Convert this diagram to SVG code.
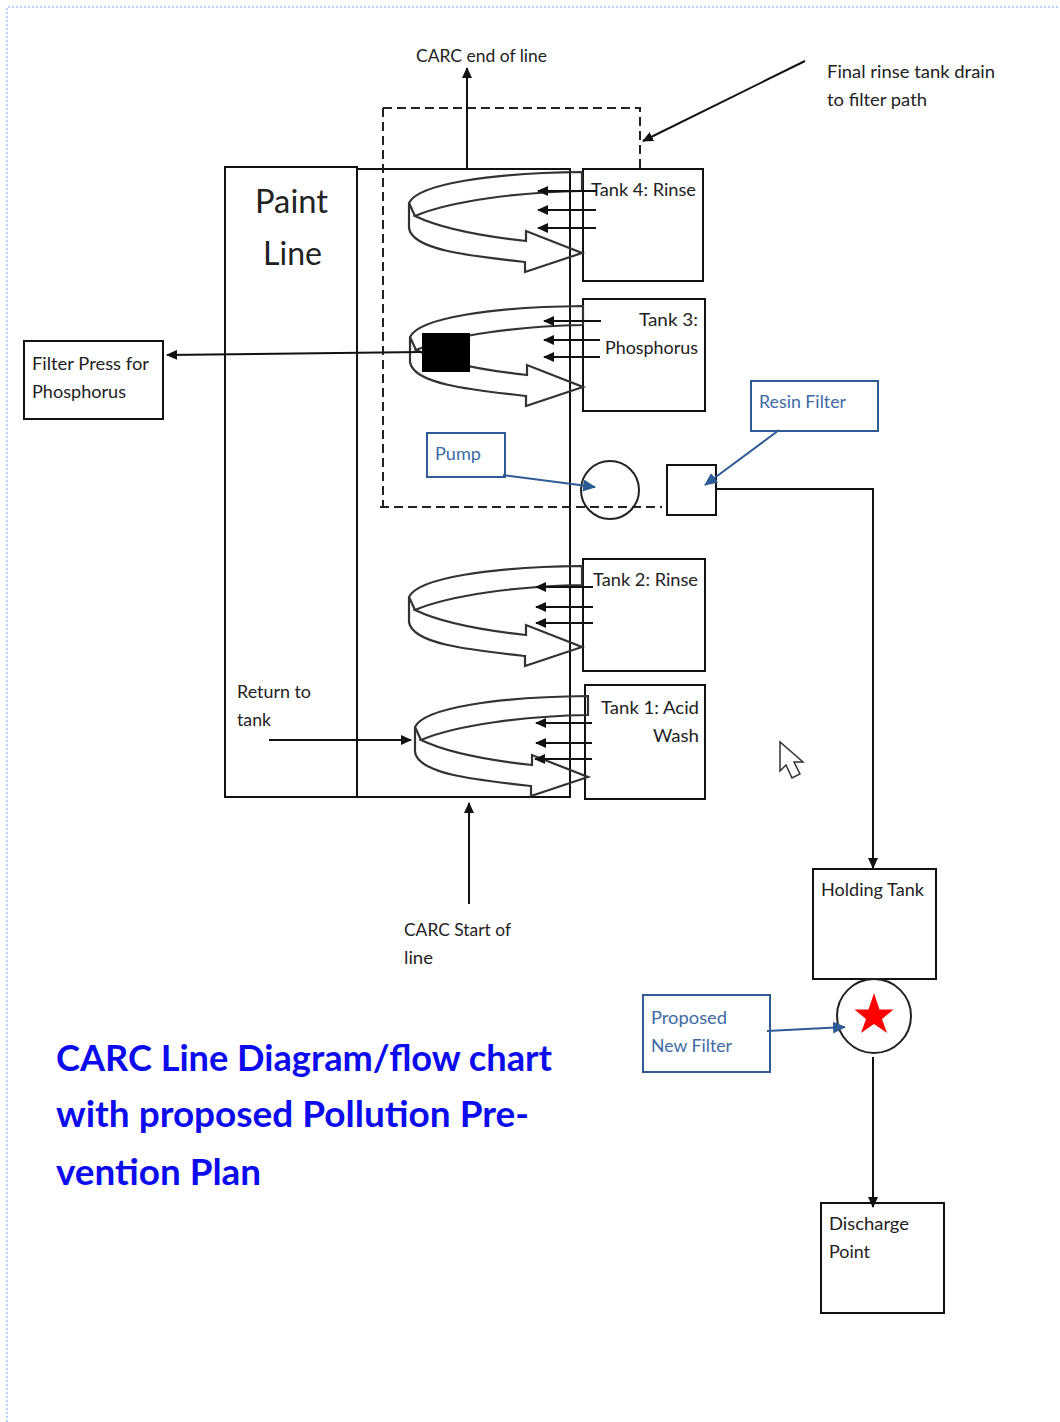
<svg xmlns="http://www.w3.org/2000/svg" width="1060" height="1422" viewBox="0 0 1060 1422">
<style>
text{font-family:"Lato","Open Sans",sans-serif;font-size:18px;fill:#222}
.b{fill:#fff;stroke:#111;stroke-width:2}
.n{fill:none;stroke:#111;stroke-width:2}
.s{fill:none;stroke:#333;stroke-width:2.200}
.c{fill:none;stroke:#111;stroke-width:2;marker-end:url(#a)}
.d{fill:none;stroke:#222;stroke-width:2;stroke-dasharray:9 5}
.bl{fill:#fff;stroke:#2f5b95;stroke-width:2}
.bc{fill:none;stroke:#2f5b95;stroke-width:2;marker-end:url(#ab)}
.t{fill:#3d6aa5}
.h{font-size:36px;font-weight:700;fill:#0b0bee}
.p{font-size:33px}
</style>
<defs>
<marker id="a" markerWidth="12" markerHeight="10" refX="10" refY="5" orient="auto" markerUnits="userSpaceOnUse"><path d="M0 0L11 5L0 10Z" fill="#111"/></marker>
<marker id="ab" markerWidth="14" markerHeight="12" refX="12" refY="6" orient="auto" markerUnits="userSpaceOnUse"><path d="M0 0L13 6L0 12Z" fill="#2f5b95"/></marker>
<path id="sw" d="M582 172C490 173 418 184 409 203V228C412 250 470 256 525 262V272L582 253L526 231V241C480 236 440 228 415 216C450 201 520 192 582 191ZM409 203L415 216"/>
</defs>
<g id="page"><path d="M7 1422V7H1060" fill="none" stroke="#b7d2fb" stroke-width="2" stroke-dasharray="2 2"/></g>

<g id="paint-line"><rect class="b" x="225" y="167" width="132" height="630"/><text class="p" x="255" y="213" textLength="73" lengthAdjust="spacingAndGlyphs">Paint</text><text class="p" x="263" y="265" textLength="59" lengthAdjust="spacingAndGlyphs">Line</text><text x="237" y="698" textLength="74" lengthAdjust="spacingAndGlyphs">Return to</text><text x="237" y="726" textLength="34" lengthAdjust="spacingAndGlyphs">tank</text></g>
<g id="process-area"><path class="n" d="M357 169H570V797H357"/></g>

<g id="tank-4"><rect class="b" x="583" y="169" width="120" height="112"/><use href="#sw" class="s"/><text x="591" y="196" textLength="105" lengthAdjust="spacingAndGlyphs">Tank 4: Rinse</text></g>
<g id="tank-3"><rect class="b" x="583" y="299" width="122" height="112"/><use href="#sw" class="s" transform="translate(1 134)"/><text x="639" y="326" textLength="59" lengthAdjust="spacingAndGlyphs">Tank 3:</text><text x="605" y="354" textLength="93" lengthAdjust="spacingAndGlyphs">Phosphorus</text></g>
<g id="tank-2"><rect class="b" x="583" y="559" width="122" height="112"/><use href="#sw" class="s" transform="translate(0 394)"/><text x="593" y="586" textLength="105" lengthAdjust="spacingAndGlyphs">Tank 2: Rinse</text></g>
<g id="tank-1"><rect class="b" x="585" y="685" width="120" height="114"/><use href="#sw" class="s" transform="translate(6 524)"/><text x="601" y="714" textLength="98" lengthAdjust="spacingAndGlyphs">Tank 1: Acid</text><text x="653" y="742" textLength="46" lengthAdjust="spacingAndGlyphs">Wash</text></g>

<g id="filter-press"><rect class="b" x="24" y="341" width="139" height="78"/><text x="32" y="370" textLength="117" lengthAdjust="spacingAndGlyphs">Filter Press for</text><text x="32" y="398" textLength="94" lengthAdjust="spacingAndGlyphs">Phosphorus</text></g>
<g id="black-filter"><rect x="422" y="333" width="48" height="39" fill="#000"/></g>
<g id="pump-label"><rect class="bl" x="427" y="433" width="78" height="44"/><text class="t" x="435" y="460" textLength="46" lengthAdjust="spacingAndGlyphs">Pump</text></g>
<g id="resin-label"><rect class="bl" x="751" y="381" width="127" height="50"/><text class="t" x="759" y="408" textLength="87" lengthAdjust="spacingAndGlyphs">Resin Filter</text></g>
<g id="pump"><circle cx="610" cy="490" r="29" fill="none" stroke="#222" stroke-width="2"/></g>
<g id="resin-filter"><rect class="b" x="667" y="465" width="49" height="50"/></g>
<g id="holding-tank"><rect class="b" x="813" y="869" width="123" height="110"/><text x="821" y="896" textLength="103" lengthAdjust="spacingAndGlyphs">Holding Tank</text></g>
<g id="new-filter"><circle cx="874" cy="1016" r="37" fill="#fff" stroke="#222" stroke-width="2"/><path d="M874 993L879.500 1009.500H893.500L882 1019L887 1033L874 1024L861 1033L866 1019L854.500 1009.500H868.500Z" fill="#f00"/></g>
<g id="proposed-label"><rect class="bl" x="643" y="995" width="127" height="77"/><text class="t" x="651" y="1024" textLength="76" lengthAdjust="spacingAndGlyphs">Proposed</text><text class="t" x="651" y="1052" textLength="81" lengthAdjust="spacingAndGlyphs">New Filter</text></g>
<g id="discharge"><rect class="b" x="821" y="1203" width="123" height="110"/><text x="829" y="1230" textLength="80" lengthAdjust="spacingAndGlyphs">Discharge</text><text x="829" y="1258" textLength="41" lengthAdjust="spacingAndGlyphs">Point</text></g>

<g id="labels"><text x="416" y="62" textLength="131" lengthAdjust="spacingAndGlyphs">CARC end of line</text><text x="827" y="78" textLength="168" lengthAdjust="spacingAndGlyphs">Final rinse tank drain</text><text x="827" y="106" textLength="100" lengthAdjust="spacingAndGlyphs">to filter path</text><text x="404" y="936" textLength="107" lengthAdjust="spacingAndGlyphs">CARC Start of</text><text x="404" y="964" textLength="29" lengthAdjust="spacingAndGlyphs">line</text>
<text class="h" x="56" y="1071" textLength="496" lengthAdjust="spacingAndGlyphs">CARC Line Diagram/flow chart</text><text class="h" x="56" y="1127" textLength="473" lengthAdjust="spacingAndGlyphs">with proposed Pollution Pre-</text><text class="h" x="56" y="1185" textLength="205" lengthAdjust="spacingAndGlyphs">vention Plan</text></g>
<g id="cursor"><path d="M780 742V771L786 765L792 778L800 774L794 762H803Z" fill="#fff" stroke="#333" stroke-width="1.500"/></g>

<g id="connectors">
<path class="d" d="M383 108H640V169M383 108V507M380 507H662"/>
<path class="c" d="M467 168V68"/><path class="c" d="M805 61L643 141"/>
<path class="c" d="M422 352L167 355"/><path class="c" d="M269 740H411"/><path class="c" d="M469 904V803"/>
<path class="c" d="M716 489H873V868"/><path class="c" d="M873 1057V1207"/>
<path class="bc" d="M503 475L595 487"/><path class="bc" d="M779 430L705 485"/><path class="bc" d="M767 1031L845 1027"/>
<path class="c" d="M596 191H538"/><path class="c" d="M596 210H538"/><path class="c" d="M596 228H538"/>
<path class="c" d="M601 321H544"/><path class="c" d="M600 340H544"/><path class="c" d="M600 357H544"/>
<path class="c" d="M593 587H536"/><path class="c" d="M593 607H536"/><path class="c" d="M593 623H536"/>
<path class="c" d="M592 723H536"/><path class="c" d="M592 743H536"/><path class="c" d="M592 759H535"/>
</g>
</svg>
